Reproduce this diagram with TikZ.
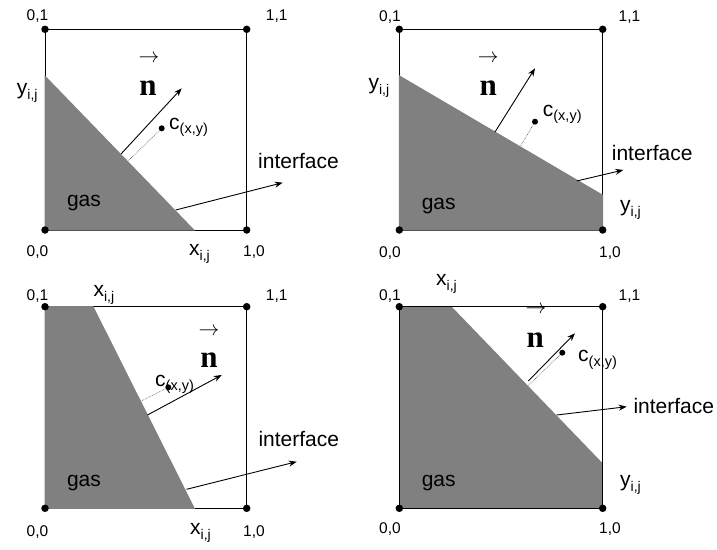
\documentclass[tikz,border=0pt]{standalone}
\usepackage{fontspec}
\setmainfont{Liberation Sans}
\newfontfamily\nfont{Liberation Serif}
\usetikzlibrary{arrows.meta}
\newcommand{\subij}[1]{#1\raisebox{-5pt}{\fontsize{14}{14}\selectfont i,j}}
\newcommand{\cxy}{c\raisebox{-4.5pt}{\fontsize{14.5}{14.5}\selectfont (x,y)}}
\tikzset{
  lbl/.style={font=\fontsize{21}{21}\selectfont, inner sep=0pt, anchor=base west},
  cornerlbl/.style={font=\fontsize{15.5}{15.5}\selectfont, inner sep=0pt, anchor=base},
  gaslbl/.style={font=\fontsize{21}{21}\selectfont, inner sep=0pt, anchor=base},
  dotnode/.style={circle, fill=black, inner sep=0pt, minimum size=7.5pt},
  cdot/.style={circle, fill=black, inner sep=0pt, minimum size=6pt},
  nlbl/.style={font=\nfont\bfseries\fontsize{31}{31}\selectfont, inner sep=0pt, anchor=base},
  veclbl/.style={font=\fontsize{20}{20}\selectfont, inner sep=0pt},
  arr/.style={-{Stealth[length=8pt,width=6pt]}, line width=0.9pt},
  dotl/.style={densely dotted, line width=0.6pt, black!70},
  box/.style={line width=1pt},
  gasfill/.style={fill=gray}
}
\begin{document}
\begin{tikzpicture}[x=1pt,y=-1pt]
\useasboundingbox (0,0) rectangle (717,549);
% ================= Panel 1 =================
\draw[box] (45,29.3) rectangle (246.7,230);
\fill[gasfill] (44.5,75) -- (195,230.5) -- (44.5,230.5) -- cycle;
\node[dotnode] (a1) at (45,29.3) {};
\node[dotnode] (b1) at (246.7,29.3) {};
\node[dotnode] (c1) at (45,230) {};
\node[dotnode] (d1) at (246.7,230) {};
\node[cornerlbl] (la1) at (37.5,20.5) {0,1};
\node[cornerlbl] (lb1) at (276.7,20.5) {1,1};
\node[cornerlbl] (lc1) at (37.5,256.5) {0,0};
\node[cornerlbl] (ld1) at (254,256.5) {1,0};
\node[lbl] (x1) at (189,255) {\subij{x}};
\node[lbl] (y1) at (16.7,94) {\subij{y}};
\node[nlbl] (n1) at (148,95) {n};
\node[veclbl] (v1) at (149,58.5) {$\rightarrow$};
\node[cdot] (cc1) at (161.7,128.3) {};
\node[lbl] (cl1) at (169,129) {\cxy};
\node[gaslbl] (g1) at (84,206) {gas};
\node[lbl] (i1) at (258,168) {interface};
\coordinate (ns1) at (121,154);
\coordinate (ne1) at (181.7,88.3);
\coordinate (f1) at (128,161);
\coordinate (is1) at (175.7,210);
\coordinate (ie1) at (282.7,182.7);
\draw[dotl] (cc1) -- (f1);
\draw[arr] (ns1) -- (ne1);
\draw[arr] (is1) -- (ie1);
% ================= Panel 2 =================
\draw[box] (399.3,29.3) rectangle (602.7,230);
\fill[gasfill] (398.8,75) -- (603.2,195) -- (603.2,230.5) -- (398.8,230.5) -- cycle;
\node[dotnode] (a2) at (399.3,29.3) {};
\node[dotnode] (b2) at (602.7,29.3) {};
\node[dotnode] (c2) at (399.3,230) {};
\node[dotnode] (d2) at (602.7,230) {};
\node[cornerlbl] (la2) at (390,21) {0,1};
\node[cornerlbl] (lb2) at (629.5,21) {1,1};
\node[cornerlbl] (lc2) at (390,257) {0,0};
\node[cornerlbl] (ld2) at (610,257) {1,0};
\node[lbl] (y2) at (368.3,89) {\subij{y}};
\node[lbl] (yr2) at (620,211) {\subij{y}};
\node[nlbl] (n2) at (488.3,95) {n};
\node[veclbl] (v2) at (488.3,58.3) {$\rightarrow$};
\node[cdot] (cc2) at (535,121.7) {};
\node[lbl] (cl2) at (542.7,116) {\cxy};
\node[gaslbl] (g2) at (438.7,209) {gas};
\node[lbl] (i2) at (611.7,160.5) {interface};
\coordinate (ns2) at (495,132);
\coordinate (ne2) at (535,68.3);
\coordinate (f2) at (520.4,146.4);
\coordinate (is2) at (576.7,181);
\coordinate (ie2) at (623.3,170);
\draw[dotl] (cc2) -- (f2);
\draw[arr] (ns2) -- (ne2);
\draw[arr] (is2) -- (ie2);
% ================= Panel 3 =================
\draw[box] (45,306.7) rectangle (246.7,508.3);
\fill[gasfill] (44.5,306.2) -- (93.3,306.2) -- (195,508.8) -- (44.5,508.8) -- cycle;
\node[dotnode] (a3) at (45,306.7) {};
\node[dotnode] (b3) at (246.7,306.7) {};
\node[dotnode] (c3) at (45,508.3) {};
\node[dotnode] (d3) at (246.7,508.3) {};
\node[cornerlbl] (la3) at (37.5,300) {0,1};
\node[cornerlbl] (lb3) at (276.7,300) {1,1};
\node[cornerlbl] (lc3) at (37.5,536.5) {0,0};
\node[cornerlbl] (ld3) at (254,536.5) {1,0};
\node[lbl] (xt3) at (93.3,296.7) {\subij{x}};
\node[lbl] (xb3) at (190,534) {\subij{x}};
\node[nlbl] (n3) at (209,367) {n};
\node[veclbl] (v3) at (209,331.7) {$\rightarrow$};
\node[cdot] (cc3) at (168.3,387.3) {};
\node[lbl] (cl3) at (155,386) {\cxy};
\node[gaslbl] (g3) at (84,486) {gas};
\node[lbl] (i3) at (258.3,446.7) {interface};
\coordinate (ns3) at (147.5,415);
\coordinate (ne3) at (221.7,375);
\coordinate (f3) at (140.9,401.2);
\coordinate (is3) at (186.5,489.3);
\coordinate (ie3) at (296.7,461.7);
\draw[dotl] (cc3) -- (f3);
\draw[arr] (ns3) -- (ne3);
\draw[arr] (is3) -- (ie3);
% ================= Panel 4 =================
\fill[gasfill] (399.3,306.7) -- (451.7,306.7) -- (602.7,463.3) -- (602.7,508.3) -- (399.3,508.3) -- cycle;
\draw[box] (399.3,306.7) rectangle (602.7,508.3);
\node[dotnode] (a4) at (399.3,306.7) {};
\node[dotnode] (b4) at (602.7,306.7) {};
\node[dotnode] (c4) at (399.3,508.3) {};
\node[dotnode] (d4) at (602.7,508.3) {};
\node[cornerlbl] (la4) at (390,300) {0,1};
\node[cornerlbl] (lb4) at (629.5,300) {1,1};
\node[cornerlbl] (lc4) at (390,533.3) {0,0};
\node[cornerlbl] (ld4) at (610,533.3) {1,0};
\node[lbl] (xt4) at (436,285) {\subij{x}};
\node[lbl] (yr4) at (620,486) {\subij{y}};
\node[nlbl] (n4) at (535.3,347) {n};
\node[veclbl] (v4) at (536,310) {$\rightarrow$};
\node[cdot] (cc4) at (562.3,352.7) {};
\node[lbl] (cl4) at (578,361.5) {\cxy};
\node[gaslbl] (g4) at (438.7,486) {gas};
\node[lbl] (i4) at (633.3,413) {interface};
\coordinate (ns4) at (528.3,381);
\coordinate (ne4) at (575,333.3);
\coordinate (f4) at (528,385.8);
\coordinate (is4) at (556.7,415);
\coordinate (ie4) at (626.7,406.7);
\draw[dotl] (cc4) -- (f4);
\draw[arr] (ns4) -- (ne4);
\draw[arr] (is4) -- (ie4);
\end{tikzpicture}
\end{document}
